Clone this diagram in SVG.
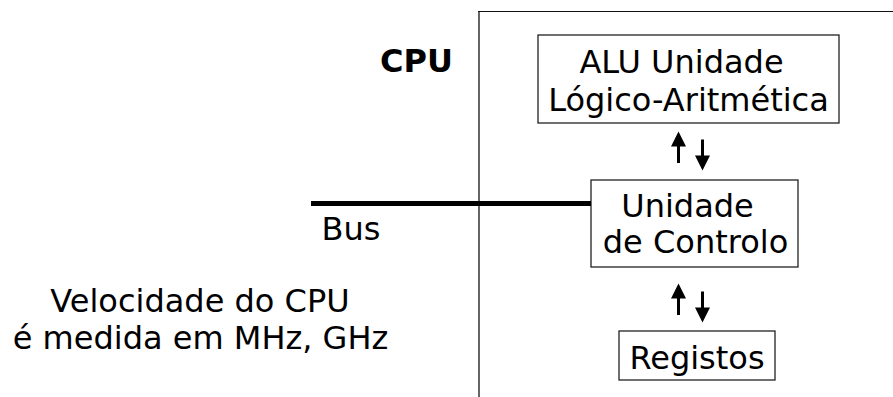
<svg xmlns="http://www.w3.org/2000/svg" width="893" height="397" viewBox="0 0 893 397">
  <defs>
    <style>
      text { font-family: "DejaVu Sans", Verdana, sans-serif; font-size: 32px; fill: #000; }
      .bold { font-weight: bold; }
      .box { fill: #fff; stroke: #222; stroke-width: 1.3; }
      .shaft { stroke: #000; stroke-width: 3; fill: none; }
      .head { fill: #000; }
      .bus { stroke: #000; stroke-width: 5; }
    </style>
    <!-- arrow heads pointing up / down, tip at origin -->
    <path id="up" d="M0,0 L7.5,15 L-7.5,15 Z"/>
    <path id="down" d="M0,0 L7.5,-15 L-7.5,-15 Z"/>
  </defs>

  <rect width="893" height="397" fill="#fff"/>

  <!-- CPU boundary, open to the right and bottom -->
  <g id="cpu">
    <line x1="479" y1="11" x2="479" y2="397" stroke="#666" stroke-width="2"/>
    <line x1="478" y1="11.5" x2="893" y2="11.5" stroke="#111" stroke-width="1.2"/>
    <text class="bold" x="416.5" y="71.5" text-anchor="middle">CPU</text>
  </g>

  <g id="alu">
    <rect class="box" x="538" y="35" width="301" height="88"/>
    <text x="681.5" y="73" text-anchor="middle">ALU Unidade</text>
    <text x="688.5" y="110.5" text-anchor="middle">Lógico-Aritmética</text>
  </g>

  <g id="controlo">
    <rect class="box" x="591" y="180" width="207" height="87"/>
    <text x="687.5" y="217" text-anchor="middle">Unidade</text>
    <text x="695.5" y="253" text-anchor="middle">de Controlo</text>
  </g>

  <g id="registos">
    <rect class="box" x="619" y="331" width="156" height="49"/>
    <text x="697" y="369" text-anchor="middle">Registos</text>
  </g>

  <g id="bus-label">
    <text x="351" y="240" text-anchor="middle">Bus</text>
  </g>

  <g id="velocidade">
    <text x="200" y="311.5" text-anchor="middle">Velocidade do CPU</text>
    <text x="200.5" y="349" text-anchor="middle">é medida em MHz, GHz</text>
  </g>

  <g id="connectors">
    <line class="bus" x1="311" y1="203.5" x2="591" y2="203.5"/>
    <!-- ALU <-> Unidade de Controlo -->
    <line class="shaft" x1="678.5" y1="163" x2="678.5" y2="144"/>
    <use href="#up" class="head" x="678.5" y="131.5"/>
    <line class="shaft" x1="702.5" y1="139.5" x2="702.5" y2="158"/>
    <use href="#down" class="head" x="702.5" y="170.5"/>
    <!-- Unidade de Controlo <-> Registos -->
    <line class="shaft" x1="678.5" y1="315" x2="678.5" y2="296"/>
    <use href="#up" class="head" x="678.5" y="283.5"/>
    <line class="shaft" x1="702.5" y1="291.5" x2="702.5" y2="310"/>
    <use href="#down" class="head" x="702.5" y="322.5"/>
  </g>
</svg>
